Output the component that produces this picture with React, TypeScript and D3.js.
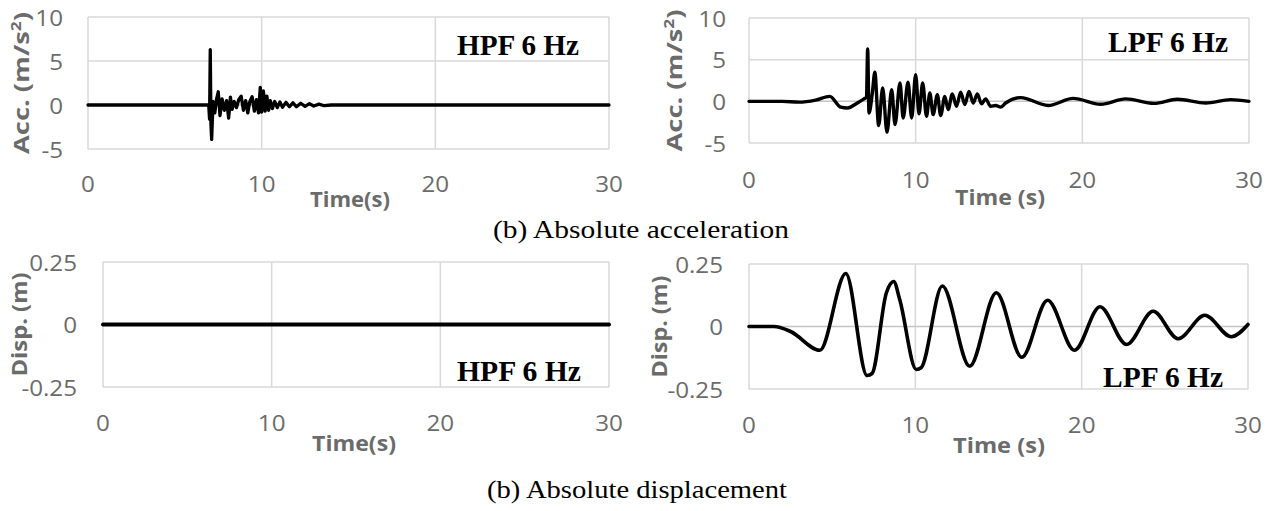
// Time-history panels: acceleration and displacement, HPF vs LPF 6 Hz
import React from 'react';
import * as d3 from 'd3';

// x ticks shared by all panels
const timeTicks = [0, 10, 20, 30];
const accTicks = [-5, 0, 5, 10];
const dispTicks = [-0.25, 0, 0.25];
const dispTickLabels = ['-0.25', '0', '0.25'];

// HPF 6 Hz acceleration [t, m/s2]
const hpfAcc: [number, number][] = [
  [0, 0], [6.95, 0], [7.0, -1.6], [7.04, 6.3], [7.08, -2.2], [7.12, -3.9], [7.2, 0.4],
  [7.3, -0.9], [7.4, 0.6], [7.5, 1.5], [7.6, -1.2], [7.72, 0.7], [7.85, -0.6], [7.98, 0.5],
  [8.1, -1.5], [8.2, 0.9], [8.3, -0.5], [8.42, 0.4], [8.55, -0.3], [8.68, 0.6], [8.82, 1.0],
  [8.95, -0.6], [9.08, 0.5], [9.2, -0.9], [9.32, 0.4], [9.45, 0.95], [9.58, -0.7], [9.7, 0.6],
  [9.82, -0.9], [9.92, 2.0], [10.0, -0.8], [10.1, 1.6], [10.2, -0.7], [10.3, 1.0], [10.4, -0.6],
  [10.5, 0.5], [10.62, -0.4], [10.75, 0.4], [10.9, -0.3], [11.05, 0.35], [11.2, -0.25],
  [11.4, 0.3], [11.6, -0.2], [11.8, 0.25], [12.0, -0.2], [12.25, 0.2], [12.5, -0.15],
  [12.75, 0.15], [13.0, -0.12], [13.3, 0.1], [13.6, -0.08], [14.0, 0], [30, 0],
];

// LPF 6 Hz acceleration [t, m/s2]
const lpfAcc: [number, number][] = [
  [0, 0], [2, 0], [3, -0.1], [4, 0.15], [4.85, 0.6], [5.5, -0.7], [5.9, -0.8], [6.5, -0.2],
  [6.9, 0.3], [7.05, 0.5], [7.12, 6.3], [7.2, -1.4], [7.4, 1.0], [7.55, 3.5], [7.78, -2.9],
  [8.02, 1.6], [8.28, -3.7], [8.56, 1.4], [8.76, -2.8], [9.06, 2.2], [9.25, -2.0], [9.54, 2.3],
  [9.76, -2.0], [10.0, 3.2], [10.2, -1.5], [10.42, 2.2], [10.65, -1.8], [10.85, 1.0],
  [11.05, -1.6], [11.3, 0.8], [11.5, -1.7], [11.75, 0.6], [11.95, -1.0], [12.2, 0.9],
  [12.45, -0.6], [12.7, 1.1], [12.95, -0.4], [13.2, 1.2], [13.45, -0.2], [13.7, 0.9],
  [13.95, -0.3], [14.2, 0.3], [14.5, -0.6], [14.8, -0.5], [15.1, -0.7], [15.4, -0.2],
  [16.3, 0.45], [17.95, -0.5], [19.45, 0.35], [21.1, -0.35], [22.6, 0.3], [24.3, -0.25],
  [25.7, 0.25], [27.4, -0.2], [28.9, 0.2], [30, 0],
];

// HPF 6 Hz displacement [t, m]
const hpfDisp: [number, number][] = [[0, 0], [30, 0]];

// LPF 6 Hz displacement [t, m]
const lpfDisp: [number, number][] = [
  [0, 0], [1.5, 0], [2.5, -0.02], [4.26, -0.095], [5.82, 0.212], [7.1, -0.196], [7.4, -0.188],
  [8.26, 0.135], [8.7, 0.18], [9.06, 0.108], [10.06, -0.172], [10.35, -0.165], [11.62, 0.162],
  [13.27, -0.159], [14.87, 0.135], [16.4, -0.123], [17.95, 0.105], [19.57, -0.095],
  [21.1, 0.079], [22.7, -0.072], [24.3, 0.061], [25.8, -0.049], [27.4, 0.045], [29, -0.041],
  [30, 0.008],
];

const GRID = '#d9d9d9';
const TICK = '#6b6b6b';
const TITLE = '#6b6b6b';
const SANS = '"Open Sans", sans-serif';
const SERIF = '"Liberation Serif", "Times New Roman", serif';
const SX = 1.1; // tick labels are a bit wide in the source

interface PanelProps {
  box: { left: number; right: number; top: number; bottom: number };
  yDomain: [number, number];
  yTicks: number[];
  yLabels: string[];
  yLabelGap: number;
  xLabelDy: number;
  data: [number, number][];
  curve: d3.CurveFactory;
  strokeW: number;
  yTitle: React.ReactNode;
  yTitleX: number;
  yTitleLen: number;
  xTitle: string;
  xTitleX: number;
  xTitleY: number;
  xTitleLen: number;
  tag: string;
  tagX: number;
  tagY: number;
  tagLen: number;
}

const Panel: React.FC<PanelProps> = (p) => {
  const { left, right, top, bottom } = p.box;
  const x = d3.scaleLinear().domain([0, 30]).range([left, right]);
  const y = d3.scaleLinear().domain(p.yDomain).range([bottom, top]);
  const line = d3.line<[number, number]>()
    .x((d) => x(d[0]))
    .y((d) => y(d[1]))
    .curve(p.curve);
  const midY = (top + bottom) / 2;

  return (
    <g>
      {/* сетка */}
      {timeTicks.map((t) => (
        <line key={'v' + t} x1={x(t)} x2={x(t)} y1={top} y2={bottom} stroke={GRID} strokeWidth={1.5} />
      ))}
      {p.yTicks.map((v) => (
        <line key={'h' + v} x1={left} x2={right} y1={y(v)} y2={y(v)}
          stroke={v === 0 ? '#c4c4c4' : GRID} strokeWidth={1.5} />
      ))}

      {/* y tick labels */}
      {p.yTicks.map((v, i) => (
        <text key={'yl' + v} transform={`translate(${left - p.yLabelGap},${y(v)}) scale(${SX},1)`}
          textAnchor="end" dominantBaseline="central" fontFamily={SANS} fontSize={22} fill={TICK}>
          {p.yLabels[i]}
        </text>
      ))}

      {/* x tick labels */}
      {timeTicks.map((t) => (
        <text key={'xl' + t} transform={`translate(${x(t)},${bottom + p.xLabelDy}) scale(${SX},1)`}
          textAnchor="middle" fontFamily={SANS} fontSize={22} fill={TICK}>
          {t}
        </text>
      ))}

      {/* линия */}
      <path d={line(p.data) || ''} fill="none" stroke="#000" strokeWidth={p.strokeW}
        strokeLinejoin="round" strokeLinecap="round" />

      {/* подписи осей */}
      <text transform={`translate(${p.yTitleX},${midY}) rotate(-90)`} textAnchor="middle"
        fontFamily={SANS} fontWeight="bold" fontSize={22} fill={TITLE}
        textLength={p.yTitleLen} lengthAdjust="spacingAndGlyphs">
        {p.yTitle}
      </text>
      <text x={p.xTitleX} y={p.xTitleY} textAnchor="middle" fontFamily={SANS} fontWeight="bold"
        fontSize={22} fill={TITLE} textLength={p.xTitleLen} lengthAdjust="spacingAndGlyphs">
        {p.xTitle}
      </text>

      <text x={p.tagX} y={p.tagY} fontFamily={SERIF} fontWeight="bold" fontSize={29} fill="#000"
        textLength={p.tagLen} lengthAdjust="spacingAndGlyphs">
        {p.tag}
      </text>
    </g>
  );
};

const accTitle = (
  <>
    Acc. (m/s<tspan fontSize={14} dy={-8}>2</tspan><tspan dy={8}>)</tspan>
  </>
);

const App: React.FC = () => {
  const accLabels = accTicks.map(String);
  return (
    <svg width={1271} height={511} style={{ position: 'absolute', left: 0, top: 0, background: '#fff' }}>
      <Panel box={{ left: 88, right: 609, top: 17, bottom: 149 }} yDomain={[-5, 10]}
        yTicks={accTicks} yLabels={accLabels} yLabelGap={25} xLabelDy={43}
        data={hpfAcc} curve={d3.curveLinear} strokeW={3.3}
        yTitle={accTitle} yTitleX={29} yTitleLen={142}
        xTitle="Time(s)" xTitleX={350} xTitleY={207} xTitleLen={80}
        tag="HPF 6 Hz" tagX={457} tagY={55} tagLen={122} />
      <Panel box={{ left: 749, right: 1249, top: 18, bottom: 143 }} yDomain={[-5, 10]}
        yTicks={accTicks} yLabels={accLabels} yLabelGap={23} xLabelDy={45}
        data={lpfAcc} curve={d3.curveMonotoneX} strokeW={3.4}
        yTitle={accTitle} yTitleX={682} yTitleLen={142}
        xTitle="Time (s)" xTitleX={1000} xTitleY={205} xTitleLen={90}
        tag="LPF 6 Hz" tagX={1108} tagY={52} tagLen={120} />
      <Panel box={{ left: 103, right: 609, top: 262, bottom: 387 }} yDomain={[-0.25, 0.25]}
        yTicks={dispTicks} yLabels={dispTickLabels} yLabelGap={26} xLabelDy={44}
        data={hpfDisp} curve={d3.curveLinear} strokeW={4}
        yTitle="Disp. (m)" yTitleX={27} yTitleLen={104}
        xTitle="Time(s)" xTitleX={354} xTitleY={451} xTitleLen={84}
        tag="HPF 6 Hz" tagX={457} tagY={381} tagLen={124} />
      <Panel box={{ left: 749, right: 1248, top: 264, bottom: 389 }} yDomain={[-0.25, 0.25]}
        yTicks={dispTicks} yLabels={dispTickLabels} yLabelGap={26} xLabelDy={44}
        data={lpfDisp} curve={d3.curveMonotoneX} strokeW={3.6}
        yTitle="Disp. (m)" yTitleX={667} yTitleLen={102}
        xTitle="Time (s)" xTitleX={999} xTitleY={453} xTitleLen={92}
        tag="LPF 6 Hz" tagX={1103} tagY={387} tagLen={120} />

      <text x={641} y={238} textAnchor="middle" fontFamily={SERIF} fontSize={26} fill="#000"
        textLength={296} lengthAdjust="spacingAndGlyphs">(b) Absolute acceleration</text>
      <text x={637} y={498} textAnchor="middle" fontFamily={SERIF} fontSize={26} fill="#000"
        textLength={300} lengthAdjust="spacingAndGlyphs">(b) Absolute displacement</text>
    </svg>
  );
};

export default App;
